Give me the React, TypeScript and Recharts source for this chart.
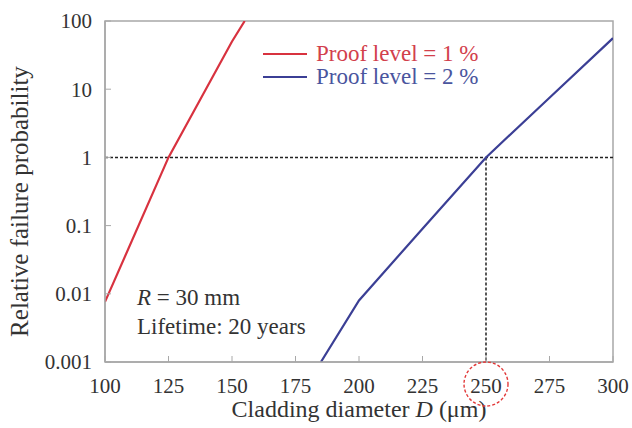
import React from "react";
import {
  LineChart,
  Line,
  XAxis,
  YAxis,
  ReferenceLine,
  ReferenceArea,
} from "recharts";

// Cladding diameter D (µm) and relative failure probability per proof level
const proof1D = [100, 125, 150, 155];
const proof1P = [0.0076, 1, 50, 100];
const proof2D = [185, 200, 225, 250, 275, 300];
const proof2P = [0.001, 0.008, 0.09, 1, 7.5, 56];

const xTicks = [100, 125, 150, 175, 200, 225, 250, 275, 300];
const yTicks = [0.001, 0.01, 0.1, 1, 10, 100];
const yTickLabels = ["0.001", "0.01", "0.1", "1", "10", "100"];

const designD = 250;
const designP = 1;

const proof1 = proof1D.map((d, i) => ({ d, p: proof1P[i] }));
const proof2 = proof2D.map((d, i) => ({ d, p: proof2P[i] }));

const RED = "#d8323f";
const BLUE = "#3b3f95";
const RED_TEXT = "#d2404c";
const BLUE_TEXT = "#4a559e";
const FONT = "'Liberation Serif', 'Times New Roman', serif";
const AXIS_GREY = "#a8a8a8";

const series = [
  { name: "Proof level = 1 %", color: RED, text: RED_TEXT },
  { name: "Proof level = 2 %", color: BLUE, text: BLUE_TEXT },
];

const XTick = (props: any) => {
  const { x, y, payload } = props;
  const highlighted = payload.value === designD;
  return (
    <g>
      {highlighted && (
        <circle
          cx={x}
          cy={y + 6}
          r={22}
          fill="none"
          stroke="#e23a3a"
          strokeWidth={1.4}
          strokeDasharray="3 2"
        />
      )}
      <text
        x={x}
        y={y}
        dy="0.71em"
        textAnchor="middle"
        fontFamily={FONT}
        fontSize={21}
        fill="#333"
      >
        {payload.value}
      </text>
    </g>
  );
};

const YTick = (props: any) => {
  const { x, y, payload } = props;
  const idx = yTicks.indexOf(payload.value);
  return (
    <text
      x={x}
      y={y}
      dy="0.35em"
      textAnchor="end"
      fontFamily={FONT}
      fontSize={21}
      fill="#333"
    >
      {idx >= 0 ? yTickLabels[idx] : payload.value}
    </text>
  );
};

const YTitle = (props: any) => {
  const vb = props.viewBox;
  const cx = vb.x + 19;
  const cy = vb.y + vb.height / 2 + 10;
  return (
    <text
      x={cx}
      y={cy}
      transform={`rotate(-90 ${cx} ${cy})`}
      textAnchor="middle"
      dominantBaseline="central"
      fontFamily={FONT}
      fontSize={25}
      fill="#333"
    >
      Relative failure probability
    </text>
  );
};

const XTitle = (props: any) => {
  const vb = props.viewBox;
  const cx = vb.x + vb.width / 2;
  return (
    <text
      x={cx}
      y={vb.y + 55}
      textAnchor="middle"
      fontFamily={FONT}
      fontSize={24}
      fill="#333"
    >
      Cladding diameter <tspan fontStyle="italic">D</tspan> (μm)
    </text>
  );
};

export default function App() {
  return (
    <div style={{ position: "absolute", left: 0, top: 0, width: 632, height: 428, background: "#fff" }}>
      <LineChart
        width={632}
        height={428}
        margin={{ top: 21, right: 19, bottom: 0, left: 0 }}
      >
        <ReferenceArea
          x1={100}
          x2={300}
          y1={0.001}
          y2={100}
          fill="none"
          stroke={AXIS_GREY}
          strokeWidth={1.5}
          ifOverflow="visible"
        />
        <XAxis
          dataKey="d"
          type="number"
          domain={[100, 300]}
          ticks={xTicks}
          allowDataOverflow
          height={66}
          tickSize={-6}
          tickMargin={22}
          tick={<XTick />}
          axisLine={{ stroke: AXIS_GREY, strokeWidth: 1.5 }}
          tickLine={{ stroke: AXIS_GREY }}
          label={<XTitle />}
        />
        <YAxis
          dataKey="p"
          type="number"
          scale="log"
          domain={[0.001, 100]}
          ticks={yTicks}
          allowDataOverflow
          width={105}
          tickSize={-6}
          tickMargin={19}
          tick={<YTick />}
          axisLine={{ stroke: AXIS_GREY, strokeWidth: 1.5 }}
          tickLine={{ stroke: AXIS_GREY }}
          label={<YTitle />}
        />
        <ReferenceLine
          y={designP}
          stroke="#222"
          strokeWidth={1.5}
          strokeDasharray="3 2"
        />
        <ReferenceLine
          segment={[
            { x: designD, y: designP },
            { x: designD, y: 0.001 },
          ]}
          stroke="#222"
          strokeWidth={1.5}
          strokeDasharray="3 2"
        />
        <Line
          data={proof1}
          dataKey="p"
          name={series[0].name}
          stroke={RED}
          strokeWidth={2.2}
          dot={false}
          isAnimationActive={false}
        />
        <Line
          data={proof2}
          dataKey="p"
          name={series[1].name}
          stroke={BLUE}
          strokeWidth={2.2}
          dot={false}
          isAnimationActive={false}
        />
      </LineChart>
      <div
        style={{
          position: "absolute",
          left: 263,
          top: 42,
          fontFamily: FONT,
          fontSize: 23,
          lineHeight: "23px",
        }}
      >
        {series.map((s) => (
          <div key={s.name} style={{ display: "flex", alignItems: "center", height: 23 }}>
            <svg width={53} height={23} style={{ display: "block" }}>
              <line x1={0} y1={12} x2={44} y2={12} stroke={s.color} strokeWidth={2.2} />
            </svg>
            <span style={{ color: s.text, whiteSpace: "nowrap" }}>{s.name}</span>
          </div>
        ))}
      </div>
      <div
        style={{
          position: "absolute",
          left: 137,
          top: 283,
          fontFamily: FONT,
          fontSize: 23,
          lineHeight: "29px",
          color: "#333",
          whiteSpace: "nowrap",
        }}
      >
        <div>
          <i>R</i> = 30 mm
        </div>
        <div>Lifetime: 20 years</div>
      </div>
    </div>
  );
}
